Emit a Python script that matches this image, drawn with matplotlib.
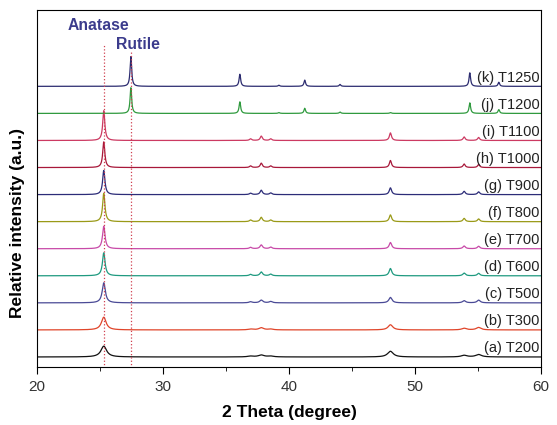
import numpy as np
import matplotlib.pyplot as plt

plt.rcParams['font.family'] = ['Liberation Sans', 'DejaVu Sans']

# peak positions (2 theta)
anatase_pos = [25.3, 36.95, 37.8, 38.55, 48.05, 53.9, 55.05]
rutile_pos = [27.45, 36.1, 39.2, 41.25, 44.05, 54.35, 56.65]

labels = ['(a) T200', '(b) T300', '(c) T500', '(d) T600', '(e) T700', '(f) T800',
          '(g) T900', '(h) T1000', '(i) T1100', '(j) T1200', '(k) T1250']
colors = ['#111111', '#e0452a', '#4a4a96', '#1f9a80', '#c84aa8', '#9a9a18',
          '#2c2c78', '#a8183a', '#cc3a62', '#2f9a3e', '#2c2c70']

# peak heights (in units of the offset between patterns), same order as positions
anatase_h = [
    [0.40, 0.03, 0.07, 0.03, 0.21, 0.06, 0.09],
    [0.47, 0.03, 0.08, 0.03, 0.19, 0.06, 0.09],
    [0.74, 0.04, 0.10, 0.05, 0.20, 0.08, 0.10],
    [0.85, 0.05, 0.14, 0.06, 0.27, 0.10, 0.09],
    [0.83, 0.05, 0.14, 0.06, 0.23, 0.10, 0.09],
    [1.05, 0.06, 0.16, 0.06, 0.25, 0.12, 0.10],
    [0.89, 0.05, 0.16, 0.06, 0.25, 0.12, 0.10],
    [0.95, 0.06, 0.16, 0.06, 0.26, 0.13, 0.11],
    [1.10, 0.06, 0.16, 0.06, 0.28, 0.13, 0.11],
    [0.00, 0.00, 0.00, 0.00, 0.03, 0.00, 0.00],
    [0.00, 0.00, 0.00, 0.00, 0.00, 0.00, 0.00],
]
rutile_h = [[0.0] * 7] * 9 + [
    [0.95, 0.43, 0.03, 0.19, 0.05, 0.39, 0.14],
    [1.10, 0.45, 0.04, 0.23, 0.07, 0.50, 0.15],
]
# peak widths (FWHM, degree)
widths = [0.55, 0.45, 0.30, 0.25, 0.24, 0.22, 0.22, 0.20, 0.20, 0.15, 0.15]

x = np.linspace(20, 60, 2400)


def lorentz(x, x0, h, w):
    return h / (1 + ((x - x0) / (w / 2)) ** 2)


fig = plt.figure(figsize=(5.57, 4.25), dpi=100)
ax = fig.add_axes([0.0664, 0.1365, 0.9049, 0.8393])

for i in range(len(labels)):
    y = np.full_like(x, float(i))
    for p, h in zip(anatase_pos, anatase_h[i]):
        y += lorentz(x, p, h, widths[i])
    for p, h in zip(rutile_pos, rutile_h[i]):
        y += lorentz(x, p, h, widths[i])
    ax.plot(x, y, color=colors[i], lw=0.9)
    ax.text(59.9, i + 0.06, labels[i], ha='right', va='bottom', fontsize=10.5,
            color='#222222')

ax.plot([25.3, 25.3], [-0.4, 11.52], ls=':', color='#d04050', lw=0.9)
ax.plot([27.45, 27.45], [-0.4, 11.3], ls=':', color='#d04050', lw=0.9)
ax.text(22.45, 12.08, 'Anatase', fontsize=11.3, fontweight='bold', color='#3b3b8c',
        va='baseline')
ax.text(26.25, 11.38, 'Rutile', fontsize=11.3, fontweight='bold', color='#3b3b8c',
        va='baseline')

ax.set_xlim(20, 60)
ax.set_ylim(-0.37, 12.81)
ax.set_yticks([])
ax.set_xticks([20, 30, 40, 50, 60])
ax.set_xticks([25, 35, 45, 55], minor=True)
ax.tick_params(axis='x', labelsize=11, length=5, pad=4.5, labelcolor='#333333')
ax.tick_params(axis='x', which='minor', length=3)
ax.set_xlabel('2 Theta (degree)', fontsize=12.5, fontweight='bold', labelpad=8)
ax.set_ylabel('Relative intensity (a.u.)', fontsize=12.5, fontweight='bold')
ax.yaxis.set_label_coords(-0.024, 0.405)

plt.savefig('out.png', dpi=100)
